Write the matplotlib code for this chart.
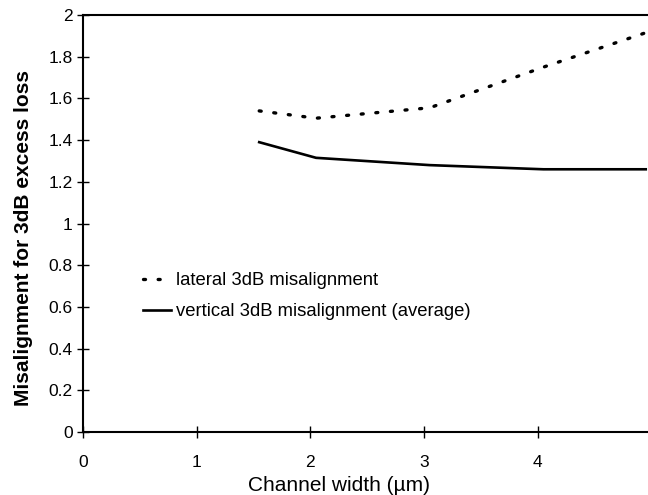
import matplotlib
matplotlib.use("Agg")
import matplotlib.pyplot as plt

plt.rcParams['font.family'] = ['Liberation Sans', 'DejaVu Sans']

channel_width = [1.55, 2.05, 3.05, 4.05, 4.95]
lateral = [1.54, 1.505, 1.555, 1.75, 1.915]
vertical = [1.39, 1.315, 1.28, 1.26, 1.26]
x_ticks = [0, 1, 2, 3, 4]
y_ticks = [0, 0.2, 0.4, 0.6, 0.8, 1, 1.2, 1.4, 1.6, 1.8, 2]
y_ticklabels = ['0', '0.2', '0.4', '0.6', '0.8', '1', '1.2', '1.4', '1.6', '1.8', '2']

fig = plt.figure(figsize=(6.48, 4.95), dpi=100)
L, R, T, B = 83, 648, 15, 432
ax = fig.add_axes([L/648, 1-B/495, (R-L)/648, (B-T)/495])

ax.plot(channel_width, lateral, color='black', lw=2.4, linestyle=(0, (0.6, 3.8)),
        dash_capstyle='round', label='lateral 3dB misalignment')
ax.plot(channel_width, vertical, color='black', lw=1.9, linestyle='-',
        label='vertical 3dB misalignment (average)')

ax.set_xlim(0, 4.97)
ax.set_ylim(0, 2)
ax.set_xticks(x_ticks)
ax.set_xticklabels([str(v) for v in x_ticks])
ax.set_yticks(y_ticks)
ax.set_yticklabels(y_ticklabels)
ax.spines['right'].set_visible(False)
for s in ['left', 'bottom', 'top']:
    ax.spines[s].set_linewidth(1.5)
ax.tick_params(direction='inout', length=9, width=1.0, labelsize=12.5, pad=3)
ax.tick_params(axis='x', pad=12)

ax.set_xlabel('Channel width (\u00b5m)', fontsize=15)
ax.xaxis.set_label_coords((339-L)/(R-L), -0.105)
ax.set_ylabel('Misalignment for 3dB excess loss', fontsize=15, fontweight='bold')
ax.yaxis.set_label_coords((33-L)/(R-L), 0.465)

leg = ax.legend(loc='upper left', bbox_to_anchor=((143-L)/(R-L), (B-272)/(B-T)),
                frameon=False, handlelength=1.5, handletextpad=0.3, labelspacing=0.78,
                fontsize=13.3, borderaxespad=0, borderpad=0)

fig.savefig('out.png', dpi=100)
